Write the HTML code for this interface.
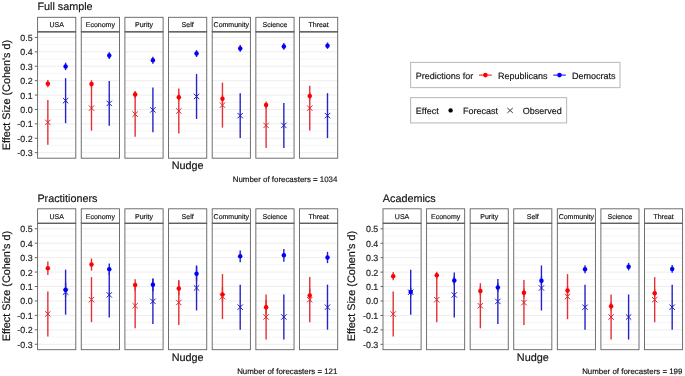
<!DOCTYPE html>
<html><head><meta charset="utf-8"><style>
html,body{margin:0;padding:0;background:#fff;}
body{width:685px;height:376px;overflow:hidden;}
svg{display:block;will-change:transform;font-family:"Liberation Sans", sans-serif;}
text{stroke:currentColor;stroke-width:0.16px;text-rendering:geometricPrecision;}
</style></head><body>
<svg width="685" height="376" viewBox="0 0 685 376">
<rect width="685" height="376" fill="#fff"/>
<text x="37.4" y="9.9" font-size="10.8" fill="#1a1a1a">Full sample</text>
<text x="32.6" y="156.1" font-size="8.9" fill="#333" text-anchor="end">-0.3</text>
<line x1="34.8" y1="152.65" x2="37.6" y2="152.65" stroke="#555" stroke-width="0.9"/>
<text x="32.6" y="141.7" font-size="8.9" fill="#333" text-anchor="end">-0.2</text>
<line x1="34.8" y1="138.25" x2="37.6" y2="138.25" stroke="#555" stroke-width="0.9"/>
<text x="32.6" y="127.3" font-size="8.9" fill="#333" text-anchor="end">-0.1</text>
<line x1="34.8" y1="123.85" x2="37.6" y2="123.85" stroke="#555" stroke-width="0.9"/>
<text x="32.6" y="112.9" font-size="8.9" fill="#333" text-anchor="end">0.0</text>
<line x1="34.8" y1="109.45" x2="37.6" y2="109.45" stroke="#555" stroke-width="0.9"/>
<text x="32.6" y="98.5" font-size="8.9" fill="#333" text-anchor="end">0.1</text>
<line x1="34.8" y1="95.05" x2="37.6" y2="95.05" stroke="#555" stroke-width="0.9"/>
<text x="32.6" y="84.1" font-size="8.9" fill="#333" text-anchor="end">0.2</text>
<line x1="34.8" y1="80.65" x2="37.6" y2="80.65" stroke="#555" stroke-width="0.9"/>
<text x="32.6" y="69.7" font-size="8.9" fill="#333" text-anchor="end">0.3</text>
<line x1="34.8" y1="66.25" x2="37.6" y2="66.25" stroke="#555" stroke-width="0.9"/>
<text x="32.6" y="55.3" font-size="8.9" fill="#333" text-anchor="end">0.4</text>
<line x1="34.8" y1="51.85" x2="37.6" y2="51.85" stroke="#555" stroke-width="0.9"/>
<text x="32.6" y="40.9" font-size="8.9" fill="#333" text-anchor="end">0.5</text>
<line x1="34.8" y1="37.45" x2="37.6" y2="37.45" stroke="#555" stroke-width="0.9"/>
<text transform="translate(10.2,95) rotate(-90)" font-size="10.85" fill="#1a1a1a" text-anchor="middle">Effect Size (Cohen's d)</text>
<line x1="37.6" y1="152.65" x2="75.8" y2="152.65" stroke="#ebebeb" stroke-width="0.9"/>
<line x1="37.6" y1="145.45" x2="75.8" y2="145.45" stroke="#f2f2f2" stroke-width="0.7"/>
<line x1="37.6" y1="138.25" x2="75.8" y2="138.25" stroke="#ebebeb" stroke-width="0.9"/>
<line x1="37.6" y1="131.05" x2="75.8" y2="131.05" stroke="#f2f2f2" stroke-width="0.7"/>
<line x1="37.6" y1="123.85" x2="75.8" y2="123.85" stroke="#ebebeb" stroke-width="0.9"/>
<line x1="37.6" y1="116.65" x2="75.8" y2="116.65" stroke="#f2f2f2" stroke-width="0.7"/>
<line x1="37.6" y1="109.45" x2="75.8" y2="109.45" stroke="#ebebeb" stroke-width="0.9"/>
<line x1="37.6" y1="102.25" x2="75.8" y2="102.25" stroke="#f2f2f2" stroke-width="0.7"/>
<line x1="37.6" y1="95.05" x2="75.8" y2="95.05" stroke="#ebebeb" stroke-width="0.9"/>
<line x1="37.6" y1="87.85" x2="75.8" y2="87.85" stroke="#f2f2f2" stroke-width="0.7"/>
<line x1="37.6" y1="80.65" x2="75.8" y2="80.65" stroke="#ebebeb" stroke-width="0.9"/>
<line x1="37.6" y1="73.45" x2="75.8" y2="73.45" stroke="#f2f2f2" stroke-width="0.7"/>
<line x1="37.6" y1="66.25" x2="75.8" y2="66.25" stroke="#ebebeb" stroke-width="0.9"/>
<line x1="37.6" y1="59.05" x2="75.8" y2="59.05" stroke="#f2f2f2" stroke-width="0.7"/>
<line x1="37.6" y1="51.85" x2="75.8" y2="51.85" stroke="#ebebeb" stroke-width="0.9"/>
<line x1="37.6" y1="44.65" x2="75.8" y2="44.65" stroke="#f2f2f2" stroke-width="0.7"/>
<line x1="37.6" y1="37.45" x2="75.8" y2="37.45" stroke="#ebebeb" stroke-width="0.9"/>
<line x1="47.85" y1="99.95" x2="47.85" y2="144.87" stroke="#e43036" stroke-width="1.4"/>
<path d="M45.15 119.71L50.55 125.11M45.15 125.11L50.55 119.71" stroke="#d42a30" stroke-width="1.0" fill="none"/>
<line x1="47.85" y1="80.07" x2="47.85" y2="87.27" stroke="#e43036" stroke-width="1.4"/>
<circle cx="47.85" cy="83.67" r="2.25" fill="#ff0000"/>
<line x1="65.6" y1="78.2" x2="65.6" y2="123.13" stroke="#2424c8" stroke-width="1.4"/>
<path d="M62.9 97.97L68.3 103.37M62.9 103.37L68.3 97.97" stroke="#1c1cb8" stroke-width="1.0" fill="none"/>
<line x1="65.6" y1="62.65" x2="65.6" y2="70.14" stroke="#2424c8" stroke-width="1.4"/>
<circle cx="65.6" cy="66.39" r="2.25" fill="#0000ff"/>
<rect x="37.6" y="31.7" width="38.2" height="126.5" fill="none" stroke="#606060" stroke-width="0.9"/>
<rect x="37.6" y="17.3" width="38.2" height="14.4" fill="#fff" stroke="#606060" stroke-width="0.9"/>
<text x="56.7" y="27.1" font-size="7" fill="#1a1a1a" text-anchor="middle">USA</text>
<line x1="37.6" y1="31.85" x2="75.8" y2="31.85" stroke="#606060" stroke-width="1.3"/>
<line x1="81.25" y1="152.65" x2="119.45" y2="152.65" stroke="#ebebeb" stroke-width="0.9"/>
<line x1="81.25" y1="145.45" x2="119.45" y2="145.45" stroke="#f2f2f2" stroke-width="0.7"/>
<line x1="81.25" y1="138.25" x2="119.45" y2="138.25" stroke="#ebebeb" stroke-width="0.9"/>
<line x1="81.25" y1="131.05" x2="119.45" y2="131.05" stroke="#f2f2f2" stroke-width="0.7"/>
<line x1="81.25" y1="123.85" x2="119.45" y2="123.85" stroke="#ebebeb" stroke-width="0.9"/>
<line x1="81.25" y1="116.65" x2="119.45" y2="116.65" stroke="#f2f2f2" stroke-width="0.7"/>
<line x1="81.25" y1="109.45" x2="119.45" y2="109.45" stroke="#ebebeb" stroke-width="0.9"/>
<line x1="81.25" y1="102.25" x2="119.45" y2="102.25" stroke="#f2f2f2" stroke-width="0.7"/>
<line x1="81.25" y1="95.05" x2="119.45" y2="95.05" stroke="#ebebeb" stroke-width="0.9"/>
<line x1="81.25" y1="87.85" x2="119.45" y2="87.85" stroke="#f2f2f2" stroke-width="0.7"/>
<line x1="81.25" y1="80.65" x2="119.45" y2="80.65" stroke="#ebebeb" stroke-width="0.9"/>
<line x1="81.25" y1="73.45" x2="119.45" y2="73.45" stroke="#f2f2f2" stroke-width="0.7"/>
<line x1="81.25" y1="66.25" x2="119.45" y2="66.25" stroke="#ebebeb" stroke-width="0.9"/>
<line x1="81.25" y1="59.05" x2="119.45" y2="59.05" stroke="#f2f2f2" stroke-width="0.7"/>
<line x1="81.25" y1="51.85" x2="119.45" y2="51.85" stroke="#ebebeb" stroke-width="0.9"/>
<line x1="81.25" y1="44.65" x2="119.45" y2="44.65" stroke="#f2f2f2" stroke-width="0.7"/>
<line x1="81.25" y1="37.45" x2="119.45" y2="37.45" stroke="#ebebeb" stroke-width="0.9"/>
<line x1="91.5" y1="85.69" x2="91.5" y2="130.62" stroke="#e43036" stroke-width="1.4"/>
<path d="M88.8 105.45L94.2 110.85M88.8 110.85L94.2 105.45" stroke="#d42a30" stroke-width="1.0" fill="none"/>
<line x1="91.5" y1="80.22" x2="91.5" y2="87.71" stroke="#e43036" stroke-width="1.4"/>
<circle cx="91.5" cy="83.96" r="2.25" fill="#ff0000"/>
<line x1="109.25" y1="80.94" x2="109.25" y2="125.87" stroke="#2424c8" stroke-width="1.4"/>
<path d="M106.55 100.7L111.95 106.1M106.55 106.1L111.95 100.7" stroke="#1c1cb8" stroke-width="1.0" fill="none"/>
<line x1="109.25" y1="52.14" x2="109.25" y2="59.05" stroke="#2424c8" stroke-width="1.4"/>
<circle cx="109.25" cy="55.59" r="2.25" fill="#0000ff"/>
<rect x="81.25" y="31.7" width="38.2" height="126.5" fill="none" stroke="#606060" stroke-width="0.9"/>
<rect x="81.25" y="17.3" width="38.2" height="14.4" fill="#fff" stroke="#606060" stroke-width="0.9"/>
<text x="100.35" y="27.1" font-size="7" fill="#1a1a1a" text-anchor="middle">Economy</text>
<line x1="81.25" y1="31.85" x2="119.45" y2="31.85" stroke="#606060" stroke-width="1.3"/>
<line x1="124.9" y1="152.65" x2="163.1" y2="152.65" stroke="#ebebeb" stroke-width="0.9"/>
<line x1="124.9" y1="145.45" x2="163.1" y2="145.45" stroke="#f2f2f2" stroke-width="0.7"/>
<line x1="124.9" y1="138.25" x2="163.1" y2="138.25" stroke="#ebebeb" stroke-width="0.9"/>
<line x1="124.9" y1="131.05" x2="163.1" y2="131.05" stroke="#f2f2f2" stroke-width="0.7"/>
<line x1="124.9" y1="123.85" x2="163.1" y2="123.85" stroke="#ebebeb" stroke-width="0.9"/>
<line x1="124.9" y1="116.65" x2="163.1" y2="116.65" stroke="#f2f2f2" stroke-width="0.7"/>
<line x1="124.9" y1="109.45" x2="163.1" y2="109.45" stroke="#ebebeb" stroke-width="0.9"/>
<line x1="124.9" y1="102.25" x2="163.1" y2="102.25" stroke="#f2f2f2" stroke-width="0.7"/>
<line x1="124.9" y1="95.05" x2="163.1" y2="95.05" stroke="#ebebeb" stroke-width="0.9"/>
<line x1="124.9" y1="87.85" x2="163.1" y2="87.85" stroke="#f2f2f2" stroke-width="0.7"/>
<line x1="124.9" y1="80.65" x2="163.1" y2="80.65" stroke="#ebebeb" stroke-width="0.9"/>
<line x1="124.9" y1="73.45" x2="163.1" y2="73.45" stroke="#f2f2f2" stroke-width="0.7"/>
<line x1="124.9" y1="66.25" x2="163.1" y2="66.25" stroke="#ebebeb" stroke-width="0.9"/>
<line x1="124.9" y1="59.05" x2="163.1" y2="59.05" stroke="#f2f2f2" stroke-width="0.7"/>
<line x1="124.9" y1="51.85" x2="163.1" y2="51.85" stroke="#ebebeb" stroke-width="0.9"/>
<line x1="124.9" y1="44.65" x2="163.1" y2="44.65" stroke="#f2f2f2" stroke-width="0.7"/>
<line x1="124.9" y1="37.45" x2="163.1" y2="37.45" stroke="#ebebeb" stroke-width="0.9"/>
<line x1="135.15" y1="91.74" x2="135.15" y2="136.67" stroke="#e43036" stroke-width="1.4"/>
<path d="M132.45 111.5L137.85 116.9M132.45 116.9L137.85 111.5" stroke="#d42a30" stroke-width="1.0" fill="none"/>
<line x1="135.15" y1="91.02" x2="135.15" y2="98.22" stroke="#e43036" stroke-width="1.4"/>
<circle cx="135.15" cy="94.62" r="2.25" fill="#ff0000"/>
<line x1="152.9" y1="87.42" x2="152.9" y2="132.35" stroke="#2424c8" stroke-width="1.4"/>
<path d="M150.2 107.18L155.6 112.58M150.2 112.58L155.6 107.18" stroke="#1c1cb8" stroke-width="1.0" fill="none"/>
<line x1="152.9" y1="56.75" x2="152.9" y2="63.66" stroke="#2424c8" stroke-width="1.4"/>
<circle cx="152.9" cy="60.2" r="2.25" fill="#0000ff"/>
<rect x="124.9" y="31.7" width="38.2" height="126.5" fill="none" stroke="#606060" stroke-width="0.9"/>
<rect x="124.9" y="17.3" width="38.2" height="14.4" fill="#fff" stroke="#606060" stroke-width="0.9"/>
<text x="144" y="27.1" font-size="7" fill="#1a1a1a" text-anchor="middle">Purity</text>
<line x1="124.9" y1="31.85" x2="163.1" y2="31.85" stroke="#606060" stroke-width="1.3"/>
<line x1="168.55" y1="152.65" x2="206.75" y2="152.65" stroke="#ebebeb" stroke-width="0.9"/>
<line x1="168.55" y1="145.45" x2="206.75" y2="145.45" stroke="#f2f2f2" stroke-width="0.7"/>
<line x1="168.55" y1="138.25" x2="206.75" y2="138.25" stroke="#ebebeb" stroke-width="0.9"/>
<line x1="168.55" y1="131.05" x2="206.75" y2="131.05" stroke="#f2f2f2" stroke-width="0.7"/>
<line x1="168.55" y1="123.85" x2="206.75" y2="123.85" stroke="#ebebeb" stroke-width="0.9"/>
<line x1="168.55" y1="116.65" x2="206.75" y2="116.65" stroke="#f2f2f2" stroke-width="0.7"/>
<line x1="168.55" y1="109.45" x2="206.75" y2="109.45" stroke="#ebebeb" stroke-width="0.9"/>
<line x1="168.55" y1="102.25" x2="206.75" y2="102.25" stroke="#f2f2f2" stroke-width="0.7"/>
<line x1="168.55" y1="95.05" x2="206.75" y2="95.05" stroke="#ebebeb" stroke-width="0.9"/>
<line x1="168.55" y1="87.85" x2="206.75" y2="87.85" stroke="#f2f2f2" stroke-width="0.7"/>
<line x1="168.55" y1="80.65" x2="206.75" y2="80.65" stroke="#ebebeb" stroke-width="0.9"/>
<line x1="168.55" y1="73.45" x2="206.75" y2="73.45" stroke="#f2f2f2" stroke-width="0.7"/>
<line x1="168.55" y1="66.25" x2="206.75" y2="66.25" stroke="#ebebeb" stroke-width="0.9"/>
<line x1="168.55" y1="59.05" x2="206.75" y2="59.05" stroke="#f2f2f2" stroke-width="0.7"/>
<line x1="168.55" y1="51.85" x2="206.75" y2="51.85" stroke="#ebebeb" stroke-width="0.9"/>
<line x1="168.55" y1="44.65" x2="206.75" y2="44.65" stroke="#f2f2f2" stroke-width="0.7"/>
<line x1="168.55" y1="37.45" x2="206.75" y2="37.45" stroke="#ebebeb" stroke-width="0.9"/>
<line x1="178.8" y1="88.57" x2="178.8" y2="133.5" stroke="#e43036" stroke-width="1.4"/>
<path d="M176.1 108.33L181.5 113.73M176.1 113.73L181.5 108.33" stroke="#d42a30" stroke-width="1.0" fill="none"/>
<line x1="178.8" y1="93.61" x2="178.8" y2="100.81" stroke="#e43036" stroke-width="1.4"/>
<circle cx="178.8" cy="97.21" r="2.25" fill="#ff0000"/>
<line x1="196.55" y1="74.03" x2="196.55" y2="118.95" stroke="#2424c8" stroke-width="1.4"/>
<path d="M193.85 93.79L199.25 99.19M193.85 99.19L199.25 93.79" stroke="#1c1cb8" stroke-width="1.0" fill="none"/>
<line x1="196.55" y1="50.12" x2="196.55" y2="57.03" stroke="#2424c8" stroke-width="1.4"/>
<circle cx="196.55" cy="53.58" r="2.25" fill="#0000ff"/>
<rect x="168.55" y="31.7" width="38.2" height="126.5" fill="none" stroke="#606060" stroke-width="0.9"/>
<rect x="168.55" y="17.3" width="38.2" height="14.4" fill="#fff" stroke="#606060" stroke-width="0.9"/>
<text x="187.65" y="27.1" font-size="7" fill="#1a1a1a" text-anchor="middle">Self</text>
<line x1="168.55" y1="31.85" x2="206.75" y2="31.85" stroke="#606060" stroke-width="1.3"/>
<line x1="212.2" y1="152.65" x2="250.4" y2="152.65" stroke="#ebebeb" stroke-width="0.9"/>
<line x1="212.2" y1="145.45" x2="250.4" y2="145.45" stroke="#f2f2f2" stroke-width="0.7"/>
<line x1="212.2" y1="138.25" x2="250.4" y2="138.25" stroke="#ebebeb" stroke-width="0.9"/>
<line x1="212.2" y1="131.05" x2="250.4" y2="131.05" stroke="#f2f2f2" stroke-width="0.7"/>
<line x1="212.2" y1="123.85" x2="250.4" y2="123.85" stroke="#ebebeb" stroke-width="0.9"/>
<line x1="212.2" y1="116.65" x2="250.4" y2="116.65" stroke="#f2f2f2" stroke-width="0.7"/>
<line x1="212.2" y1="109.45" x2="250.4" y2="109.45" stroke="#ebebeb" stroke-width="0.9"/>
<line x1="212.2" y1="102.25" x2="250.4" y2="102.25" stroke="#f2f2f2" stroke-width="0.7"/>
<line x1="212.2" y1="95.05" x2="250.4" y2="95.05" stroke="#ebebeb" stroke-width="0.9"/>
<line x1="212.2" y1="87.85" x2="250.4" y2="87.85" stroke="#f2f2f2" stroke-width="0.7"/>
<line x1="212.2" y1="80.65" x2="250.4" y2="80.65" stroke="#ebebeb" stroke-width="0.9"/>
<line x1="212.2" y1="73.45" x2="250.4" y2="73.45" stroke="#f2f2f2" stroke-width="0.7"/>
<line x1="212.2" y1="66.25" x2="250.4" y2="66.25" stroke="#ebebeb" stroke-width="0.9"/>
<line x1="212.2" y1="59.05" x2="250.4" y2="59.05" stroke="#f2f2f2" stroke-width="0.7"/>
<line x1="212.2" y1="51.85" x2="250.4" y2="51.85" stroke="#ebebeb" stroke-width="0.9"/>
<line x1="212.2" y1="44.65" x2="250.4" y2="44.65" stroke="#f2f2f2" stroke-width="0.7"/>
<line x1="212.2" y1="37.45" x2="250.4" y2="37.45" stroke="#ebebeb" stroke-width="0.9"/>
<line x1="222.45" y1="82.67" x2="222.45" y2="127.59" stroke="#e43036" stroke-width="1.4"/>
<path d="M219.75 102.43L225.15 107.83M219.75 107.83L225.15 102.43" stroke="#d42a30" stroke-width="1.0" fill="none"/>
<line x1="222.45" y1="95.05" x2="222.45" y2="102.25" stroke="#e43036" stroke-width="1.4"/>
<circle cx="222.45" cy="98.65" r="2.25" fill="#ff0000"/>
<line x1="240.2" y1="93.18" x2="240.2" y2="138.11" stroke="#2424c8" stroke-width="1.4"/>
<path d="M237.5 112.94L242.9 118.34M237.5 118.34L242.9 112.94" stroke="#1c1cb8" stroke-width="1.0" fill="none"/>
<line x1="240.2" y1="45.08" x2="240.2" y2="51.71" stroke="#2424c8" stroke-width="1.4"/>
<circle cx="240.2" cy="48.39" r="2.25" fill="#0000ff"/>
<rect x="212.2" y="31.7" width="38.2" height="126.5" fill="none" stroke="#606060" stroke-width="0.9"/>
<rect x="212.2" y="17.3" width="38.2" height="14.4" fill="#fff" stroke="#606060" stroke-width="0.9"/>
<text x="231.3" y="27.1" font-size="7" fill="#1a1a1a" text-anchor="middle">Community</text>
<line x1="212.2" y1="31.85" x2="250.4" y2="31.85" stroke="#606060" stroke-width="1.3"/>
<line x1="255.85" y1="152.65" x2="294.05" y2="152.65" stroke="#ebebeb" stroke-width="0.9"/>
<line x1="255.85" y1="145.45" x2="294.05" y2="145.45" stroke="#f2f2f2" stroke-width="0.7"/>
<line x1="255.85" y1="138.25" x2="294.05" y2="138.25" stroke="#ebebeb" stroke-width="0.9"/>
<line x1="255.85" y1="131.05" x2="294.05" y2="131.05" stroke="#f2f2f2" stroke-width="0.7"/>
<line x1="255.85" y1="123.85" x2="294.05" y2="123.85" stroke="#ebebeb" stroke-width="0.9"/>
<line x1="255.85" y1="116.65" x2="294.05" y2="116.65" stroke="#f2f2f2" stroke-width="0.7"/>
<line x1="255.85" y1="109.45" x2="294.05" y2="109.45" stroke="#ebebeb" stroke-width="0.9"/>
<line x1="255.85" y1="102.25" x2="294.05" y2="102.25" stroke="#f2f2f2" stroke-width="0.7"/>
<line x1="255.85" y1="95.05" x2="294.05" y2="95.05" stroke="#ebebeb" stroke-width="0.9"/>
<line x1="255.85" y1="87.85" x2="294.05" y2="87.85" stroke="#f2f2f2" stroke-width="0.7"/>
<line x1="255.85" y1="80.65" x2="294.05" y2="80.65" stroke="#ebebeb" stroke-width="0.9"/>
<line x1="255.85" y1="73.45" x2="294.05" y2="73.45" stroke="#f2f2f2" stroke-width="0.7"/>
<line x1="255.85" y1="66.25" x2="294.05" y2="66.25" stroke="#ebebeb" stroke-width="0.9"/>
<line x1="255.85" y1="59.05" x2="294.05" y2="59.05" stroke="#f2f2f2" stroke-width="0.7"/>
<line x1="255.85" y1="51.85" x2="294.05" y2="51.85" stroke="#ebebeb" stroke-width="0.9"/>
<line x1="255.85" y1="44.65" x2="294.05" y2="44.65" stroke="#f2f2f2" stroke-width="0.7"/>
<line x1="255.85" y1="37.45" x2="294.05" y2="37.45" stroke="#ebebeb" stroke-width="0.9"/>
<line x1="266.1" y1="102.97" x2="266.1" y2="147.9" stroke="#e43036" stroke-width="1.4"/>
<path d="M263.4 122.73L268.8 128.13M263.4 128.13L268.8 122.73" stroke="#d42a30" stroke-width="1.0" fill="none"/>
<line x1="266.1" y1="101.39" x2="266.1" y2="108.59" stroke="#e43036" stroke-width="1.4"/>
<circle cx="266.1" cy="104.99" r="2.25" fill="#ff0000"/>
<line x1="283.85" y1="102.97" x2="283.85" y2="147.9" stroke="#2424c8" stroke-width="1.4"/>
<path d="M281.15 122.73L286.55 128.13M281.15 128.13L286.55 122.73" stroke="#1c1cb8" stroke-width="1.0" fill="none"/>
<line x1="283.85" y1="43.07" x2="283.85" y2="49.69" stroke="#2424c8" stroke-width="1.4"/>
<circle cx="283.85" cy="46.38" r="2.25" fill="#0000ff"/>
<rect x="255.85" y="31.7" width="38.2" height="126.5" fill="none" stroke="#606060" stroke-width="0.9"/>
<rect x="255.85" y="17.3" width="38.2" height="14.4" fill="#fff" stroke="#606060" stroke-width="0.9"/>
<text x="274.95" y="27.1" font-size="7" fill="#1a1a1a" text-anchor="middle">Science</text>
<line x1="255.85" y1="31.85" x2="294.05" y2="31.85" stroke="#606060" stroke-width="1.3"/>
<line x1="299.5" y1="152.65" x2="337.7" y2="152.65" stroke="#ebebeb" stroke-width="0.9"/>
<line x1="299.5" y1="145.45" x2="337.7" y2="145.45" stroke="#f2f2f2" stroke-width="0.7"/>
<line x1="299.5" y1="138.25" x2="337.7" y2="138.25" stroke="#ebebeb" stroke-width="0.9"/>
<line x1="299.5" y1="131.05" x2="337.7" y2="131.05" stroke="#f2f2f2" stroke-width="0.7"/>
<line x1="299.5" y1="123.85" x2="337.7" y2="123.85" stroke="#ebebeb" stroke-width="0.9"/>
<line x1="299.5" y1="116.65" x2="337.7" y2="116.65" stroke="#f2f2f2" stroke-width="0.7"/>
<line x1="299.5" y1="109.45" x2="337.7" y2="109.45" stroke="#ebebeb" stroke-width="0.9"/>
<line x1="299.5" y1="102.25" x2="337.7" y2="102.25" stroke="#f2f2f2" stroke-width="0.7"/>
<line x1="299.5" y1="95.05" x2="337.7" y2="95.05" stroke="#ebebeb" stroke-width="0.9"/>
<line x1="299.5" y1="87.85" x2="337.7" y2="87.85" stroke="#f2f2f2" stroke-width="0.7"/>
<line x1="299.5" y1="80.65" x2="337.7" y2="80.65" stroke="#ebebeb" stroke-width="0.9"/>
<line x1="299.5" y1="73.45" x2="337.7" y2="73.45" stroke="#f2f2f2" stroke-width="0.7"/>
<line x1="299.5" y1="66.25" x2="337.7" y2="66.25" stroke="#ebebeb" stroke-width="0.9"/>
<line x1="299.5" y1="59.05" x2="337.7" y2="59.05" stroke="#f2f2f2" stroke-width="0.7"/>
<line x1="299.5" y1="51.85" x2="337.7" y2="51.85" stroke="#ebebeb" stroke-width="0.9"/>
<line x1="299.5" y1="44.65" x2="337.7" y2="44.65" stroke="#f2f2f2" stroke-width="0.7"/>
<line x1="299.5" y1="37.45" x2="337.7" y2="37.45" stroke="#ebebeb" stroke-width="0.9"/>
<line x1="309.75" y1="85.69" x2="309.75" y2="130.62" stroke="#e43036" stroke-width="1.4"/>
<path d="M307.05 105.45L312.45 110.85M307.05 110.85L312.45 105.45" stroke="#d42a30" stroke-width="1.0" fill="none"/>
<line x1="309.75" y1="92.46" x2="309.75" y2="99.66" stroke="#e43036" stroke-width="1.4"/>
<circle cx="309.75" cy="96.06" r="2.25" fill="#ff0000"/>
<line x1="327.5" y1="93.18" x2="327.5" y2="138.11" stroke="#2424c8" stroke-width="1.4"/>
<path d="M324.8 112.94L330.2 118.34M324.8 118.34L330.2 112.94" stroke="#1c1cb8" stroke-width="1.0" fill="none"/>
<line x1="327.5" y1="42.49" x2="327.5" y2="48.83" stroke="#2424c8" stroke-width="1.4"/>
<circle cx="327.5" cy="45.66" r="2.25" fill="#0000ff"/>
<rect x="299.5" y="31.7" width="38.2" height="126.5" fill="none" stroke="#606060" stroke-width="0.9"/>
<rect x="299.5" y="17.3" width="38.2" height="14.4" fill="#fff" stroke="#606060" stroke-width="0.9"/>
<text x="318.6" y="27.1" font-size="7" fill="#1a1a1a" text-anchor="middle">Threat</text>
<line x1="299.5" y1="31.85" x2="337.7" y2="31.85" stroke="#606060" stroke-width="1.3"/>
<text x="187.65" y="169.1" font-size="10.85" fill="#1a1a1a" text-anchor="middle">Nudge</text>
<text x="337.4" y="182" font-size="7.9" fill="#1a1a1a" text-anchor="end">Number of forecasters = 1034</text>
<text x="37.4" y="201.65" font-size="10.8" fill="#1a1a1a">Practitioners</text>
<text x="32.6" y="347.72" font-size="8.9" fill="#333" text-anchor="end">-0.3</text>
<line x1="34.8" y1="344.27" x2="37.6" y2="344.27" stroke="#555" stroke-width="0.9"/>
<text x="32.6" y="333.28" font-size="8.9" fill="#333" text-anchor="end">-0.2</text>
<line x1="34.8" y1="329.83" x2="37.6" y2="329.83" stroke="#555" stroke-width="0.9"/>
<text x="32.6" y="318.84" font-size="8.9" fill="#333" text-anchor="end">-0.1</text>
<line x1="34.8" y1="315.39" x2="37.6" y2="315.39" stroke="#555" stroke-width="0.9"/>
<text x="32.6" y="304.4" font-size="8.9" fill="#333" text-anchor="end">0.0</text>
<line x1="34.8" y1="300.95" x2="37.6" y2="300.95" stroke="#555" stroke-width="0.9"/>
<text x="32.6" y="289.96" font-size="8.9" fill="#333" text-anchor="end">0.1</text>
<line x1="34.8" y1="286.51" x2="37.6" y2="286.51" stroke="#555" stroke-width="0.9"/>
<text x="32.6" y="275.52" font-size="8.9" fill="#333" text-anchor="end">0.2</text>
<line x1="34.8" y1="272.07" x2="37.6" y2="272.07" stroke="#555" stroke-width="0.9"/>
<text x="32.6" y="261.08" font-size="8.9" fill="#333" text-anchor="end">0.3</text>
<line x1="34.8" y1="257.63" x2="37.6" y2="257.63" stroke="#555" stroke-width="0.9"/>
<text x="32.6" y="246.64" font-size="8.9" fill="#333" text-anchor="end">0.4</text>
<line x1="34.8" y1="243.19" x2="37.6" y2="243.19" stroke="#555" stroke-width="0.9"/>
<text x="32.6" y="232.2" font-size="8.9" fill="#333" text-anchor="end">0.5</text>
<line x1="34.8" y1="228.75" x2="37.6" y2="228.75" stroke="#555" stroke-width="0.9"/>
<text transform="translate(10.2,286.15) rotate(-90)" font-size="10.85" fill="#1a1a1a" text-anchor="middle">Effect Size (Cohen's d)</text>
<line x1="37.6" y1="344.27" x2="75.8" y2="344.27" stroke="#ebebeb" stroke-width="0.9"/>
<line x1="37.6" y1="337.05" x2="75.8" y2="337.05" stroke="#f2f2f2" stroke-width="0.7"/>
<line x1="37.6" y1="329.83" x2="75.8" y2="329.83" stroke="#ebebeb" stroke-width="0.9"/>
<line x1="37.6" y1="322.61" x2="75.8" y2="322.61" stroke="#f2f2f2" stroke-width="0.7"/>
<line x1="37.6" y1="315.39" x2="75.8" y2="315.39" stroke="#ebebeb" stroke-width="0.9"/>
<line x1="37.6" y1="308.17" x2="75.8" y2="308.17" stroke="#f2f2f2" stroke-width="0.7"/>
<line x1="37.6" y1="300.95" x2="75.8" y2="300.95" stroke="#ebebeb" stroke-width="0.9"/>
<line x1="37.6" y1="293.73" x2="75.8" y2="293.73" stroke="#f2f2f2" stroke-width="0.7"/>
<line x1="37.6" y1="286.51" x2="75.8" y2="286.51" stroke="#ebebeb" stroke-width="0.9"/>
<line x1="37.6" y1="279.29" x2="75.8" y2="279.29" stroke="#f2f2f2" stroke-width="0.7"/>
<line x1="37.6" y1="272.07" x2="75.8" y2="272.07" stroke="#ebebeb" stroke-width="0.9"/>
<line x1="37.6" y1="264.85" x2="75.8" y2="264.85" stroke="#f2f2f2" stroke-width="0.7"/>
<line x1="37.6" y1="257.63" x2="75.8" y2="257.63" stroke="#ebebeb" stroke-width="0.9"/>
<line x1="37.6" y1="250.41" x2="75.8" y2="250.41" stroke="#f2f2f2" stroke-width="0.7"/>
<line x1="37.6" y1="243.19" x2="75.8" y2="243.19" stroke="#ebebeb" stroke-width="0.9"/>
<line x1="37.6" y1="235.97" x2="75.8" y2="235.97" stroke="#f2f2f2" stroke-width="0.7"/>
<line x1="37.6" y1="228.75" x2="75.8" y2="228.75" stroke="#ebebeb" stroke-width="0.9"/>
<line x1="47.85" y1="291.42" x2="47.85" y2="336.47" stroke="#e43036" stroke-width="1.4"/>
<path d="M45.15 311.25L50.55 316.65M45.15 316.65L50.55 311.25" stroke="#d42a30" stroke-width="1.0" fill="none"/>
<line x1="47.85" y1="261.38" x2="47.85" y2="274.96" stroke="#e43036" stroke-width="1.4"/>
<circle cx="47.85" cy="268.17" r="2.25" fill="#ff0000"/>
<line x1="65.6" y1="269.62" x2="65.6" y2="314.67" stroke="#2424c8" stroke-width="1.4"/>
<path d="M62.9 289.44L68.3 294.84M62.9 294.84L68.3 289.44" stroke="#1c1cb8" stroke-width="1.0" fill="none"/>
<line x1="65.6" y1="282.47" x2="65.6" y2="296.91" stroke="#2424c8" stroke-width="1.4"/>
<circle cx="65.6" cy="289.69" r="2.25" fill="#0000ff"/>
<rect x="37.6" y="223.2" width="38.2" height="126.5" fill="none" stroke="#606060" stroke-width="0.9"/>
<rect x="37.6" y="208.8" width="38.2" height="14.4" fill="#fff" stroke="#606060" stroke-width="0.9"/>
<text x="56.7" y="218.6" font-size="7" fill="#1a1a1a" text-anchor="middle">USA</text>
<line x1="37.6" y1="223.35" x2="75.8" y2="223.35" stroke="#606060" stroke-width="1.3"/>
<line x1="81.25" y1="344.27" x2="119.45" y2="344.27" stroke="#ebebeb" stroke-width="0.9"/>
<line x1="81.25" y1="337.05" x2="119.45" y2="337.05" stroke="#f2f2f2" stroke-width="0.7"/>
<line x1="81.25" y1="329.83" x2="119.45" y2="329.83" stroke="#ebebeb" stroke-width="0.9"/>
<line x1="81.25" y1="322.61" x2="119.45" y2="322.61" stroke="#f2f2f2" stroke-width="0.7"/>
<line x1="81.25" y1="315.39" x2="119.45" y2="315.39" stroke="#ebebeb" stroke-width="0.9"/>
<line x1="81.25" y1="308.17" x2="119.45" y2="308.17" stroke="#f2f2f2" stroke-width="0.7"/>
<line x1="81.25" y1="300.95" x2="119.45" y2="300.95" stroke="#ebebeb" stroke-width="0.9"/>
<line x1="81.25" y1="293.73" x2="119.45" y2="293.73" stroke="#f2f2f2" stroke-width="0.7"/>
<line x1="81.25" y1="286.51" x2="119.45" y2="286.51" stroke="#ebebeb" stroke-width="0.9"/>
<line x1="81.25" y1="279.29" x2="119.45" y2="279.29" stroke="#f2f2f2" stroke-width="0.7"/>
<line x1="81.25" y1="272.07" x2="119.45" y2="272.07" stroke="#ebebeb" stroke-width="0.9"/>
<line x1="81.25" y1="264.85" x2="119.45" y2="264.85" stroke="#f2f2f2" stroke-width="0.7"/>
<line x1="81.25" y1="257.63" x2="119.45" y2="257.63" stroke="#ebebeb" stroke-width="0.9"/>
<line x1="81.25" y1="250.41" x2="119.45" y2="250.41" stroke="#f2f2f2" stroke-width="0.7"/>
<line x1="81.25" y1="243.19" x2="119.45" y2="243.19" stroke="#ebebeb" stroke-width="0.9"/>
<line x1="81.25" y1="235.97" x2="119.45" y2="235.97" stroke="#f2f2f2" stroke-width="0.7"/>
<line x1="81.25" y1="228.75" x2="119.45" y2="228.75" stroke="#ebebeb" stroke-width="0.9"/>
<line x1="91.5" y1="277.12" x2="91.5" y2="322.18" stroke="#e43036" stroke-width="1.4"/>
<path d="M88.8 296.95L94.2 302.35M88.8 302.35L94.2 296.95" stroke="#d42a30" stroke-width="1.0" fill="none"/>
<line x1="91.5" y1="258.5" x2="91.5" y2="270.63" stroke="#e43036" stroke-width="1.4"/>
<circle cx="91.5" cy="264.56" r="2.25" fill="#ff0000"/>
<line x1="109.25" y1="272.36" x2="109.25" y2="317.41" stroke="#2424c8" stroke-width="1.4"/>
<path d="M106.55 292.19L111.95 297.59M106.55 297.59L111.95 292.19" stroke="#1c1cb8" stroke-width="1.0" fill="none"/>
<line x1="109.25" y1="263.41" x2="109.25" y2="274.96" stroke="#2424c8" stroke-width="1.4"/>
<circle cx="109.25" cy="269.18" r="2.25" fill="#0000ff"/>
<rect x="81.25" y="223.2" width="38.2" height="126.5" fill="none" stroke="#606060" stroke-width="0.9"/>
<rect x="81.25" y="208.8" width="38.2" height="14.4" fill="#fff" stroke="#606060" stroke-width="0.9"/>
<text x="100.35" y="218.6" font-size="7" fill="#1a1a1a" text-anchor="middle">Economy</text>
<line x1="81.25" y1="223.35" x2="119.45" y2="223.35" stroke="#606060" stroke-width="1.3"/>
<line x1="124.9" y1="344.27" x2="163.1" y2="344.27" stroke="#ebebeb" stroke-width="0.9"/>
<line x1="124.9" y1="337.05" x2="163.1" y2="337.05" stroke="#f2f2f2" stroke-width="0.7"/>
<line x1="124.9" y1="329.83" x2="163.1" y2="329.83" stroke="#ebebeb" stroke-width="0.9"/>
<line x1="124.9" y1="322.61" x2="163.1" y2="322.61" stroke="#f2f2f2" stroke-width="0.7"/>
<line x1="124.9" y1="315.39" x2="163.1" y2="315.39" stroke="#ebebeb" stroke-width="0.9"/>
<line x1="124.9" y1="308.17" x2="163.1" y2="308.17" stroke="#f2f2f2" stroke-width="0.7"/>
<line x1="124.9" y1="300.95" x2="163.1" y2="300.95" stroke="#ebebeb" stroke-width="0.9"/>
<line x1="124.9" y1="293.73" x2="163.1" y2="293.73" stroke="#f2f2f2" stroke-width="0.7"/>
<line x1="124.9" y1="286.51" x2="163.1" y2="286.51" stroke="#ebebeb" stroke-width="0.9"/>
<line x1="124.9" y1="279.29" x2="163.1" y2="279.29" stroke="#f2f2f2" stroke-width="0.7"/>
<line x1="124.9" y1="272.07" x2="163.1" y2="272.07" stroke="#ebebeb" stroke-width="0.9"/>
<line x1="124.9" y1="264.85" x2="163.1" y2="264.85" stroke="#f2f2f2" stroke-width="0.7"/>
<line x1="124.9" y1="257.63" x2="163.1" y2="257.63" stroke="#ebebeb" stroke-width="0.9"/>
<line x1="124.9" y1="250.41" x2="163.1" y2="250.41" stroke="#f2f2f2" stroke-width="0.7"/>
<line x1="124.9" y1="243.19" x2="163.1" y2="243.19" stroke="#ebebeb" stroke-width="0.9"/>
<line x1="124.9" y1="235.97" x2="163.1" y2="235.97" stroke="#f2f2f2" stroke-width="0.7"/>
<line x1="124.9" y1="228.75" x2="163.1" y2="228.75" stroke="#ebebeb" stroke-width="0.9"/>
<line x1="135.15" y1="283.19" x2="135.15" y2="328.24" stroke="#e43036" stroke-width="1.4"/>
<path d="M132.45 303.02L137.85 308.42M132.45 308.42L137.85 303.02" stroke="#d42a30" stroke-width="1.0" fill="none"/>
<line x1="135.15" y1="279.29" x2="135.15" y2="290.84" stroke="#e43036" stroke-width="1.4"/>
<circle cx="135.15" cy="285.07" r="2.25" fill="#ff0000"/>
<line x1="152.9" y1="278.86" x2="152.9" y2="323.91" stroke="#2424c8" stroke-width="1.4"/>
<path d="M150.2 298.68L155.6 304.08M150.2 304.08L155.6 298.68" stroke="#1c1cb8" stroke-width="1.0" fill="none"/>
<line x1="152.9" y1="278.42" x2="152.9" y2="291.13" stroke="#2424c8" stroke-width="1.4"/>
<circle cx="152.9" cy="284.78" r="2.25" fill="#0000ff"/>
<rect x="124.9" y="223.2" width="38.2" height="126.5" fill="none" stroke="#606060" stroke-width="0.9"/>
<rect x="124.9" y="208.8" width="38.2" height="14.4" fill="#fff" stroke="#606060" stroke-width="0.9"/>
<text x="144" y="218.6" font-size="7" fill="#1a1a1a" text-anchor="middle">Purity</text>
<line x1="124.9" y1="223.35" x2="163.1" y2="223.35" stroke="#606060" stroke-width="1.3"/>
<line x1="168.55" y1="344.27" x2="206.75" y2="344.27" stroke="#ebebeb" stroke-width="0.9"/>
<line x1="168.55" y1="337.05" x2="206.75" y2="337.05" stroke="#f2f2f2" stroke-width="0.7"/>
<line x1="168.55" y1="329.83" x2="206.75" y2="329.83" stroke="#ebebeb" stroke-width="0.9"/>
<line x1="168.55" y1="322.61" x2="206.75" y2="322.61" stroke="#f2f2f2" stroke-width="0.7"/>
<line x1="168.55" y1="315.39" x2="206.75" y2="315.39" stroke="#ebebeb" stroke-width="0.9"/>
<line x1="168.55" y1="308.17" x2="206.75" y2="308.17" stroke="#f2f2f2" stroke-width="0.7"/>
<line x1="168.55" y1="300.95" x2="206.75" y2="300.95" stroke="#ebebeb" stroke-width="0.9"/>
<line x1="168.55" y1="293.73" x2="206.75" y2="293.73" stroke="#f2f2f2" stroke-width="0.7"/>
<line x1="168.55" y1="286.51" x2="206.75" y2="286.51" stroke="#ebebeb" stroke-width="0.9"/>
<line x1="168.55" y1="279.29" x2="206.75" y2="279.29" stroke="#f2f2f2" stroke-width="0.7"/>
<line x1="168.55" y1="272.07" x2="206.75" y2="272.07" stroke="#ebebeb" stroke-width="0.9"/>
<line x1="168.55" y1="264.85" x2="206.75" y2="264.85" stroke="#f2f2f2" stroke-width="0.7"/>
<line x1="168.55" y1="257.63" x2="206.75" y2="257.63" stroke="#ebebeb" stroke-width="0.9"/>
<line x1="168.55" y1="250.41" x2="206.75" y2="250.41" stroke="#f2f2f2" stroke-width="0.7"/>
<line x1="168.55" y1="243.19" x2="206.75" y2="243.19" stroke="#ebebeb" stroke-width="0.9"/>
<line x1="168.55" y1="235.97" x2="206.75" y2="235.97" stroke="#f2f2f2" stroke-width="0.7"/>
<line x1="168.55" y1="228.75" x2="206.75" y2="228.75" stroke="#ebebeb" stroke-width="0.9"/>
<line x1="178.8" y1="280.01" x2="178.8" y2="325.06" stroke="#e43036" stroke-width="1.4"/>
<path d="M176.1 299.84L181.5 305.24M176.1 305.24L181.5 299.84" stroke="#d42a30" stroke-width="1.0" fill="none"/>
<line x1="178.8" y1="281.17" x2="178.8" y2="295.61" stroke="#e43036" stroke-width="1.4"/>
<circle cx="178.8" cy="288.39" r="2.25" fill="#ff0000"/>
<line x1="196.55" y1="265.43" x2="196.55" y2="310.48" stroke="#2424c8" stroke-width="1.4"/>
<path d="M193.85 285.25L199.25 290.65M193.85 290.65L199.25 285.25" stroke="#1c1cb8" stroke-width="1.0" fill="none"/>
<line x1="196.55" y1="266.44" x2="196.55" y2="280.88" stroke="#2424c8" stroke-width="1.4"/>
<circle cx="196.55" cy="273.66" r="2.25" fill="#0000ff"/>
<rect x="168.55" y="223.2" width="38.2" height="126.5" fill="none" stroke="#606060" stroke-width="0.9"/>
<rect x="168.55" y="208.8" width="38.2" height="14.4" fill="#fff" stroke="#606060" stroke-width="0.9"/>
<text x="187.65" y="218.6" font-size="7" fill="#1a1a1a" text-anchor="middle">Self</text>
<line x1="168.55" y1="223.35" x2="206.75" y2="223.35" stroke="#606060" stroke-width="1.3"/>
<line x1="212.2" y1="344.27" x2="250.4" y2="344.27" stroke="#ebebeb" stroke-width="0.9"/>
<line x1="212.2" y1="337.05" x2="250.4" y2="337.05" stroke="#f2f2f2" stroke-width="0.7"/>
<line x1="212.2" y1="329.83" x2="250.4" y2="329.83" stroke="#ebebeb" stroke-width="0.9"/>
<line x1="212.2" y1="322.61" x2="250.4" y2="322.61" stroke="#f2f2f2" stroke-width="0.7"/>
<line x1="212.2" y1="315.39" x2="250.4" y2="315.39" stroke="#ebebeb" stroke-width="0.9"/>
<line x1="212.2" y1="308.17" x2="250.4" y2="308.17" stroke="#f2f2f2" stroke-width="0.7"/>
<line x1="212.2" y1="300.95" x2="250.4" y2="300.95" stroke="#ebebeb" stroke-width="0.9"/>
<line x1="212.2" y1="293.73" x2="250.4" y2="293.73" stroke="#f2f2f2" stroke-width="0.7"/>
<line x1="212.2" y1="286.51" x2="250.4" y2="286.51" stroke="#ebebeb" stroke-width="0.9"/>
<line x1="212.2" y1="279.29" x2="250.4" y2="279.29" stroke="#f2f2f2" stroke-width="0.7"/>
<line x1="212.2" y1="272.07" x2="250.4" y2="272.07" stroke="#ebebeb" stroke-width="0.9"/>
<line x1="212.2" y1="264.85" x2="250.4" y2="264.85" stroke="#f2f2f2" stroke-width="0.7"/>
<line x1="212.2" y1="257.63" x2="250.4" y2="257.63" stroke="#ebebeb" stroke-width="0.9"/>
<line x1="212.2" y1="250.41" x2="250.4" y2="250.41" stroke="#f2f2f2" stroke-width="0.7"/>
<line x1="212.2" y1="243.19" x2="250.4" y2="243.19" stroke="#ebebeb" stroke-width="0.9"/>
<line x1="212.2" y1="235.97" x2="250.4" y2="235.97" stroke="#f2f2f2" stroke-width="0.7"/>
<line x1="212.2" y1="228.75" x2="250.4" y2="228.75" stroke="#ebebeb" stroke-width="0.9"/>
<line x1="222.45" y1="274.09" x2="222.45" y2="319.14" stroke="#e43036" stroke-width="1.4"/>
<path d="M219.75 293.92L225.15 299.32M219.75 299.32L225.15 293.92" stroke="#d42a30" stroke-width="1.0" fill="none"/>
<line x1="222.45" y1="287.23" x2="222.45" y2="301.67" stroke="#e43036" stroke-width="1.4"/>
<circle cx="222.45" cy="294.45" r="2.25" fill="#ff0000"/>
<line x1="240.2" y1="284.63" x2="240.2" y2="329.69" stroke="#2424c8" stroke-width="1.4"/>
<path d="M237.5 304.46L242.9 309.86M237.5 309.86L242.9 304.46" stroke="#1c1cb8" stroke-width="1.0" fill="none"/>
<line x1="240.2" y1="250.41" x2="240.2" y2="262.25" stroke="#2424c8" stroke-width="1.4"/>
<circle cx="240.2" cy="256.33" r="2.25" fill="#0000ff"/>
<rect x="212.2" y="223.2" width="38.2" height="126.5" fill="none" stroke="#606060" stroke-width="0.9"/>
<rect x="212.2" y="208.8" width="38.2" height="14.4" fill="#fff" stroke="#606060" stroke-width="0.9"/>
<text x="231.3" y="218.6" font-size="7" fill="#1a1a1a" text-anchor="middle">Community</text>
<line x1="212.2" y1="223.35" x2="250.4" y2="223.35" stroke="#606060" stroke-width="1.3"/>
<line x1="255.85" y1="344.27" x2="294.05" y2="344.27" stroke="#ebebeb" stroke-width="0.9"/>
<line x1="255.85" y1="337.05" x2="294.05" y2="337.05" stroke="#f2f2f2" stroke-width="0.7"/>
<line x1="255.85" y1="329.83" x2="294.05" y2="329.83" stroke="#ebebeb" stroke-width="0.9"/>
<line x1="255.85" y1="322.61" x2="294.05" y2="322.61" stroke="#f2f2f2" stroke-width="0.7"/>
<line x1="255.85" y1="315.39" x2="294.05" y2="315.39" stroke="#ebebeb" stroke-width="0.9"/>
<line x1="255.85" y1="308.17" x2="294.05" y2="308.17" stroke="#f2f2f2" stroke-width="0.7"/>
<line x1="255.85" y1="300.95" x2="294.05" y2="300.95" stroke="#ebebeb" stroke-width="0.9"/>
<line x1="255.85" y1="293.73" x2="294.05" y2="293.73" stroke="#f2f2f2" stroke-width="0.7"/>
<line x1="255.85" y1="286.51" x2="294.05" y2="286.51" stroke="#ebebeb" stroke-width="0.9"/>
<line x1="255.85" y1="279.29" x2="294.05" y2="279.29" stroke="#f2f2f2" stroke-width="0.7"/>
<line x1="255.85" y1="272.07" x2="294.05" y2="272.07" stroke="#ebebeb" stroke-width="0.9"/>
<line x1="255.85" y1="264.85" x2="294.05" y2="264.85" stroke="#f2f2f2" stroke-width="0.7"/>
<line x1="255.85" y1="257.63" x2="294.05" y2="257.63" stroke="#ebebeb" stroke-width="0.9"/>
<line x1="255.85" y1="250.41" x2="294.05" y2="250.41" stroke="#f2f2f2" stroke-width="0.7"/>
<line x1="255.85" y1="243.19" x2="294.05" y2="243.19" stroke="#ebebeb" stroke-width="0.9"/>
<line x1="255.85" y1="235.97" x2="294.05" y2="235.97" stroke="#f2f2f2" stroke-width="0.7"/>
<line x1="255.85" y1="228.75" x2="294.05" y2="228.75" stroke="#ebebeb" stroke-width="0.9"/>
<line x1="266.1" y1="294.45" x2="266.1" y2="339.5" stroke="#e43036" stroke-width="1.4"/>
<path d="M263.4 314.28L268.8 319.68M263.4 319.68L268.8 314.28" stroke="#d42a30" stroke-width="1.0" fill="none"/>
<line x1="266.1" y1="300.08" x2="266.1" y2="314.52" stroke="#e43036" stroke-width="1.4"/>
<circle cx="266.1" cy="307.3" r="2.25" fill="#ff0000"/>
<line x1="283.85" y1="294.45" x2="283.85" y2="339.5" stroke="#2424c8" stroke-width="1.4"/>
<path d="M281.15 314.28L286.55 319.68M281.15 319.68L286.55 314.28" stroke="#1c1cb8" stroke-width="1.0" fill="none"/>
<line x1="283.85" y1="248.97" x2="283.85" y2="261.67" stroke="#2424c8" stroke-width="1.4"/>
<circle cx="283.85" cy="255.32" r="2.25" fill="#0000ff"/>
<rect x="255.85" y="223.2" width="38.2" height="126.5" fill="none" stroke="#606060" stroke-width="0.9"/>
<rect x="255.85" y="208.8" width="38.2" height="14.4" fill="#fff" stroke="#606060" stroke-width="0.9"/>
<text x="274.95" y="218.6" font-size="7" fill="#1a1a1a" text-anchor="middle">Science</text>
<line x1="255.85" y1="223.35" x2="294.05" y2="223.35" stroke="#606060" stroke-width="1.3"/>
<line x1="299.5" y1="344.27" x2="337.7" y2="344.27" stroke="#ebebeb" stroke-width="0.9"/>
<line x1="299.5" y1="337.05" x2="337.7" y2="337.05" stroke="#f2f2f2" stroke-width="0.7"/>
<line x1="299.5" y1="329.83" x2="337.7" y2="329.83" stroke="#ebebeb" stroke-width="0.9"/>
<line x1="299.5" y1="322.61" x2="337.7" y2="322.61" stroke="#f2f2f2" stroke-width="0.7"/>
<line x1="299.5" y1="315.39" x2="337.7" y2="315.39" stroke="#ebebeb" stroke-width="0.9"/>
<line x1="299.5" y1="308.17" x2="337.7" y2="308.17" stroke="#f2f2f2" stroke-width="0.7"/>
<line x1="299.5" y1="300.95" x2="337.7" y2="300.95" stroke="#ebebeb" stroke-width="0.9"/>
<line x1="299.5" y1="293.73" x2="337.7" y2="293.73" stroke="#f2f2f2" stroke-width="0.7"/>
<line x1="299.5" y1="286.51" x2="337.7" y2="286.51" stroke="#ebebeb" stroke-width="0.9"/>
<line x1="299.5" y1="279.29" x2="337.7" y2="279.29" stroke="#f2f2f2" stroke-width="0.7"/>
<line x1="299.5" y1="272.07" x2="337.7" y2="272.07" stroke="#ebebeb" stroke-width="0.9"/>
<line x1="299.5" y1="264.85" x2="337.7" y2="264.85" stroke="#f2f2f2" stroke-width="0.7"/>
<line x1="299.5" y1="257.63" x2="337.7" y2="257.63" stroke="#ebebeb" stroke-width="0.9"/>
<line x1="299.5" y1="250.41" x2="337.7" y2="250.41" stroke="#f2f2f2" stroke-width="0.7"/>
<line x1="299.5" y1="243.19" x2="337.7" y2="243.19" stroke="#ebebeb" stroke-width="0.9"/>
<line x1="299.5" y1="235.97" x2="337.7" y2="235.97" stroke="#f2f2f2" stroke-width="0.7"/>
<line x1="299.5" y1="228.75" x2="337.7" y2="228.75" stroke="#ebebeb" stroke-width="0.9"/>
<line x1="309.75" y1="277.12" x2="309.75" y2="322.18" stroke="#e43036" stroke-width="1.4"/>
<path d="M307.05 296.95L312.45 302.35M307.05 302.35L312.45 296.95" stroke="#d42a30" stroke-width="1.0" fill="none"/>
<line x1="309.75" y1="288.39" x2="309.75" y2="302.83" stroke="#e43036" stroke-width="1.4"/>
<circle cx="309.75" cy="295.61" r="2.25" fill="#ff0000"/>
<line x1="327.5" y1="284.63" x2="327.5" y2="329.69" stroke="#2424c8" stroke-width="1.4"/>
<path d="M324.8 304.46L330.2 309.86M324.8 309.86L330.2 304.46" stroke="#1c1cb8" stroke-width="1.0" fill="none"/>
<line x1="327.5" y1="251.85" x2="327.5" y2="263.12" stroke="#2424c8" stroke-width="1.4"/>
<circle cx="327.5" cy="257.49" r="2.25" fill="#0000ff"/>
<rect x="299.5" y="223.2" width="38.2" height="126.5" fill="none" stroke="#606060" stroke-width="0.9"/>
<rect x="299.5" y="208.8" width="38.2" height="14.4" fill="#fff" stroke="#606060" stroke-width="0.9"/>
<text x="318.6" y="218.6" font-size="7" fill="#1a1a1a" text-anchor="middle">Threat</text>
<line x1="299.5" y1="223.35" x2="337.7" y2="223.35" stroke="#606060" stroke-width="1.3"/>
<text x="187.65" y="360.6" font-size="10.85" fill="#1a1a1a" text-anchor="middle">Nudge</text>
<text x="337.4" y="373.5" font-size="7.9" fill="#1a1a1a" text-anchor="end">Number of forecasters = 121</text>
<text x="382.8" y="201.65" font-size="10.8" fill="#1a1a1a">Academics</text>
<text x="378.3" y="347.77" font-size="8.9" fill="#333" text-anchor="end">-0.3</text>
<line x1="380.5" y1="344.32" x2="383" y2="344.32" stroke="#555" stroke-width="0.9"/>
<text x="378.3" y="333.33" font-size="8.9" fill="#333" text-anchor="end">-0.2</text>
<line x1="380.5" y1="329.88" x2="383" y2="329.88" stroke="#555" stroke-width="0.9"/>
<text x="378.3" y="318.89" font-size="8.9" fill="#333" text-anchor="end">-0.1</text>
<line x1="380.5" y1="315.44" x2="383" y2="315.44" stroke="#555" stroke-width="0.9"/>
<text x="378.3" y="304.45" font-size="8.9" fill="#333" text-anchor="end">0.0</text>
<line x1="380.5" y1="301" x2="383" y2="301" stroke="#555" stroke-width="0.9"/>
<text x="378.3" y="290.01" font-size="8.9" fill="#333" text-anchor="end">0.1</text>
<line x1="380.5" y1="286.56" x2="383" y2="286.56" stroke="#555" stroke-width="0.9"/>
<text x="378.3" y="275.57" font-size="8.9" fill="#333" text-anchor="end">0.2</text>
<line x1="380.5" y1="272.12" x2="383" y2="272.12" stroke="#555" stroke-width="0.9"/>
<text x="378.3" y="261.13" font-size="8.9" fill="#333" text-anchor="end">0.3</text>
<line x1="380.5" y1="257.68" x2="383" y2="257.68" stroke="#555" stroke-width="0.9"/>
<text x="378.3" y="246.69" font-size="8.9" fill="#333" text-anchor="end">0.4</text>
<line x1="380.5" y1="243.24" x2="383" y2="243.24" stroke="#555" stroke-width="0.9"/>
<text x="378.3" y="232.25" font-size="8.9" fill="#333" text-anchor="end">0.5</text>
<line x1="380.5" y1="228.8" x2="383" y2="228.8" stroke="#555" stroke-width="0.9"/>
<text transform="translate(355.45,286.15) rotate(-90)" font-size="10.85" fill="#1a1a1a" text-anchor="middle">Effect Size (Cohen's d)</text>
<line x1="383" y1="344.32" x2="421.1" y2="344.32" stroke="#ebebeb" stroke-width="0.9"/>
<line x1="383" y1="337.1" x2="421.1" y2="337.1" stroke="#f2f2f2" stroke-width="0.7"/>
<line x1="383" y1="329.88" x2="421.1" y2="329.88" stroke="#ebebeb" stroke-width="0.9"/>
<line x1="383" y1="322.66" x2="421.1" y2="322.66" stroke="#f2f2f2" stroke-width="0.7"/>
<line x1="383" y1="315.44" x2="421.1" y2="315.44" stroke="#ebebeb" stroke-width="0.9"/>
<line x1="383" y1="308.22" x2="421.1" y2="308.22" stroke="#f2f2f2" stroke-width="0.7"/>
<line x1="383" y1="301" x2="421.1" y2="301" stroke="#ebebeb" stroke-width="0.9"/>
<line x1="383" y1="293.78" x2="421.1" y2="293.78" stroke="#f2f2f2" stroke-width="0.7"/>
<line x1="383" y1="286.56" x2="421.1" y2="286.56" stroke="#ebebeb" stroke-width="0.9"/>
<line x1="383" y1="279.34" x2="421.1" y2="279.34" stroke="#f2f2f2" stroke-width="0.7"/>
<line x1="383" y1="272.12" x2="421.1" y2="272.12" stroke="#ebebeb" stroke-width="0.9"/>
<line x1="383" y1="264.9" x2="421.1" y2="264.9" stroke="#f2f2f2" stroke-width="0.7"/>
<line x1="383" y1="257.68" x2="421.1" y2="257.68" stroke="#ebebeb" stroke-width="0.9"/>
<line x1="383" y1="250.46" x2="421.1" y2="250.46" stroke="#f2f2f2" stroke-width="0.7"/>
<line x1="383" y1="243.24" x2="421.1" y2="243.24" stroke="#ebebeb" stroke-width="0.9"/>
<line x1="383" y1="236.02" x2="421.1" y2="236.02" stroke="#f2f2f2" stroke-width="0.7"/>
<line x1="383" y1="228.8" x2="421.1" y2="228.8" stroke="#ebebeb" stroke-width="0.9"/>
<line x1="393.2" y1="291.47" x2="393.2" y2="336.52" stroke="#e43036" stroke-width="1.4"/>
<path d="M390.5 311.3L395.9 316.7M390.5 316.7L395.9 311.3" stroke="#d42a30" stroke-width="1.0" fill="none"/>
<line x1="393.2" y1="272.12" x2="393.2" y2="280.21" stroke="#e43036" stroke-width="1.4"/>
<circle cx="393.2" cy="276.16" r="2.25" fill="#ff0000"/>
<line x1="410.7" y1="269.67" x2="410.7" y2="314.72" stroke="#2424c8" stroke-width="1.4"/>
<path d="M408 289.49L413.4 294.89M408 294.89L413.4 289.49" stroke="#1c1cb8" stroke-width="1.0" fill="none"/>
<line x1="410.7" y1="287.72" x2="410.7" y2="296.38" stroke="#2424c8" stroke-width="1.4"/>
<circle cx="410.7" cy="292.05" r="2.25" fill="#0000ff"/>
<rect x="383" y="223.2" width="38.1" height="126.5" fill="none" stroke="#606060" stroke-width="0.9"/>
<rect x="383" y="208.8" width="38.1" height="14.4" fill="#fff" stroke="#606060" stroke-width="0.9"/>
<text x="402.05" y="218.6" font-size="7" fill="#1a1a1a" text-anchor="middle">USA</text>
<line x1="383" y1="223.35" x2="421.1" y2="223.35" stroke="#606060" stroke-width="1.3"/>
<line x1="426.58" y1="344.32" x2="464.68" y2="344.32" stroke="#ebebeb" stroke-width="0.9"/>
<line x1="426.58" y1="337.1" x2="464.68" y2="337.1" stroke="#f2f2f2" stroke-width="0.7"/>
<line x1="426.58" y1="329.88" x2="464.68" y2="329.88" stroke="#ebebeb" stroke-width="0.9"/>
<line x1="426.58" y1="322.66" x2="464.68" y2="322.66" stroke="#f2f2f2" stroke-width="0.7"/>
<line x1="426.58" y1="315.44" x2="464.68" y2="315.44" stroke="#ebebeb" stroke-width="0.9"/>
<line x1="426.58" y1="308.22" x2="464.68" y2="308.22" stroke="#f2f2f2" stroke-width="0.7"/>
<line x1="426.58" y1="301" x2="464.68" y2="301" stroke="#ebebeb" stroke-width="0.9"/>
<line x1="426.58" y1="293.78" x2="464.68" y2="293.78" stroke="#f2f2f2" stroke-width="0.7"/>
<line x1="426.58" y1="286.56" x2="464.68" y2="286.56" stroke="#ebebeb" stroke-width="0.9"/>
<line x1="426.58" y1="279.34" x2="464.68" y2="279.34" stroke="#f2f2f2" stroke-width="0.7"/>
<line x1="426.58" y1="272.12" x2="464.68" y2="272.12" stroke="#ebebeb" stroke-width="0.9"/>
<line x1="426.58" y1="264.9" x2="464.68" y2="264.9" stroke="#f2f2f2" stroke-width="0.7"/>
<line x1="426.58" y1="257.68" x2="464.68" y2="257.68" stroke="#ebebeb" stroke-width="0.9"/>
<line x1="426.58" y1="250.46" x2="464.68" y2="250.46" stroke="#f2f2f2" stroke-width="0.7"/>
<line x1="426.58" y1="243.24" x2="464.68" y2="243.24" stroke="#ebebeb" stroke-width="0.9"/>
<line x1="426.58" y1="236.02" x2="464.68" y2="236.02" stroke="#f2f2f2" stroke-width="0.7"/>
<line x1="426.58" y1="228.8" x2="464.68" y2="228.8" stroke="#ebebeb" stroke-width="0.9"/>
<line x1="436.78" y1="277.17" x2="436.78" y2="322.23" stroke="#e43036" stroke-width="1.4"/>
<path d="M434.08 297L439.48 302.4M434.08 302.4L439.48 297" stroke="#d42a30" stroke-width="1.0" fill="none"/>
<line x1="436.78" y1="271.69" x2="436.78" y2="278.91" stroke="#e43036" stroke-width="1.4"/>
<circle cx="436.78" cy="275.3" r="2.25" fill="#ff0000"/>
<line x1="454.28" y1="272.41" x2="454.28" y2="317.46" stroke="#2424c8" stroke-width="1.4"/>
<path d="M451.58 292.24L456.98 297.64M451.58 297.64L456.98 292.24" stroke="#1c1cb8" stroke-width="1.0" fill="none"/>
<line x1="454.28" y1="276.16" x2="454.28" y2="284.83" stroke="#2424c8" stroke-width="1.4"/>
<circle cx="454.28" cy="280.5" r="2.25" fill="#0000ff"/>
<rect x="426.58" y="223.2" width="38.1" height="126.5" fill="none" stroke="#606060" stroke-width="0.9"/>
<rect x="426.58" y="208.8" width="38.1" height="14.4" fill="#fff" stroke="#606060" stroke-width="0.9"/>
<text x="445.63" y="218.6" font-size="7" fill="#1a1a1a" text-anchor="middle">Economy</text>
<line x1="426.58" y1="223.35" x2="464.68" y2="223.35" stroke="#606060" stroke-width="1.3"/>
<line x1="470.16" y1="344.32" x2="508.26" y2="344.32" stroke="#ebebeb" stroke-width="0.9"/>
<line x1="470.16" y1="337.1" x2="508.26" y2="337.1" stroke="#f2f2f2" stroke-width="0.7"/>
<line x1="470.16" y1="329.88" x2="508.26" y2="329.88" stroke="#ebebeb" stroke-width="0.9"/>
<line x1="470.16" y1="322.66" x2="508.26" y2="322.66" stroke="#f2f2f2" stroke-width="0.7"/>
<line x1="470.16" y1="315.44" x2="508.26" y2="315.44" stroke="#ebebeb" stroke-width="0.9"/>
<line x1="470.16" y1="308.22" x2="508.26" y2="308.22" stroke="#f2f2f2" stroke-width="0.7"/>
<line x1="470.16" y1="301" x2="508.26" y2="301" stroke="#ebebeb" stroke-width="0.9"/>
<line x1="470.16" y1="293.78" x2="508.26" y2="293.78" stroke="#f2f2f2" stroke-width="0.7"/>
<line x1="470.16" y1="286.56" x2="508.26" y2="286.56" stroke="#ebebeb" stroke-width="0.9"/>
<line x1="470.16" y1="279.34" x2="508.26" y2="279.34" stroke="#f2f2f2" stroke-width="0.7"/>
<line x1="470.16" y1="272.12" x2="508.26" y2="272.12" stroke="#ebebeb" stroke-width="0.9"/>
<line x1="470.16" y1="264.9" x2="508.26" y2="264.9" stroke="#f2f2f2" stroke-width="0.7"/>
<line x1="470.16" y1="257.68" x2="508.26" y2="257.68" stroke="#ebebeb" stroke-width="0.9"/>
<line x1="470.16" y1="250.46" x2="508.26" y2="250.46" stroke="#f2f2f2" stroke-width="0.7"/>
<line x1="470.16" y1="243.24" x2="508.26" y2="243.24" stroke="#ebebeb" stroke-width="0.9"/>
<line x1="470.16" y1="236.02" x2="508.26" y2="236.02" stroke="#f2f2f2" stroke-width="0.7"/>
<line x1="470.16" y1="228.8" x2="508.26" y2="228.8" stroke="#ebebeb" stroke-width="0.9"/>
<line x1="480.36" y1="283.24" x2="480.36" y2="328.29" stroke="#e43036" stroke-width="1.4"/>
<path d="M477.66 303.07L483.06 308.47M477.66 308.47L483.06 303.07" stroke="#d42a30" stroke-width="1.0" fill="none"/>
<line x1="480.36" y1="286.56" x2="480.36" y2="295.22" stroke="#e43036" stroke-width="1.4"/>
<circle cx="480.36" cy="290.89" r="2.25" fill="#ff0000"/>
<line x1="497.86" y1="278.91" x2="497.86" y2="323.96" stroke="#2424c8" stroke-width="1.4"/>
<path d="M495.16 298.73L500.56 304.13M495.16 304.13L500.56 298.73" stroke="#1c1cb8" stroke-width="1.0" fill="none"/>
<line x1="497.86" y1="283.09" x2="497.86" y2="291.76" stroke="#2424c8" stroke-width="1.4"/>
<circle cx="497.86" cy="287.43" r="2.25" fill="#0000ff"/>
<rect x="470.16" y="223.2" width="38.1" height="126.5" fill="none" stroke="#606060" stroke-width="0.9"/>
<rect x="470.16" y="208.8" width="38.1" height="14.4" fill="#fff" stroke="#606060" stroke-width="0.9"/>
<text x="489.21" y="218.6" font-size="7" fill="#1a1a1a" text-anchor="middle">Purity</text>
<line x1="470.16" y1="223.35" x2="508.26" y2="223.35" stroke="#606060" stroke-width="1.3"/>
<line x1="513.74" y1="344.32" x2="551.84" y2="344.32" stroke="#ebebeb" stroke-width="0.9"/>
<line x1="513.74" y1="337.1" x2="551.84" y2="337.1" stroke="#f2f2f2" stroke-width="0.7"/>
<line x1="513.74" y1="329.88" x2="551.84" y2="329.88" stroke="#ebebeb" stroke-width="0.9"/>
<line x1="513.74" y1="322.66" x2="551.84" y2="322.66" stroke="#f2f2f2" stroke-width="0.7"/>
<line x1="513.74" y1="315.44" x2="551.84" y2="315.44" stroke="#ebebeb" stroke-width="0.9"/>
<line x1="513.74" y1="308.22" x2="551.84" y2="308.22" stroke="#f2f2f2" stroke-width="0.7"/>
<line x1="513.74" y1="301" x2="551.84" y2="301" stroke="#ebebeb" stroke-width="0.9"/>
<line x1="513.74" y1="293.78" x2="551.84" y2="293.78" stroke="#f2f2f2" stroke-width="0.7"/>
<line x1="513.74" y1="286.56" x2="551.84" y2="286.56" stroke="#ebebeb" stroke-width="0.9"/>
<line x1="513.74" y1="279.34" x2="551.84" y2="279.34" stroke="#f2f2f2" stroke-width="0.7"/>
<line x1="513.74" y1="272.12" x2="551.84" y2="272.12" stroke="#ebebeb" stroke-width="0.9"/>
<line x1="513.74" y1="264.9" x2="551.84" y2="264.9" stroke="#f2f2f2" stroke-width="0.7"/>
<line x1="513.74" y1="257.68" x2="551.84" y2="257.68" stroke="#ebebeb" stroke-width="0.9"/>
<line x1="513.74" y1="250.46" x2="551.84" y2="250.46" stroke="#f2f2f2" stroke-width="0.7"/>
<line x1="513.74" y1="243.24" x2="551.84" y2="243.24" stroke="#ebebeb" stroke-width="0.9"/>
<line x1="513.74" y1="236.02" x2="551.84" y2="236.02" stroke="#f2f2f2" stroke-width="0.7"/>
<line x1="513.74" y1="228.8" x2="551.84" y2="228.8" stroke="#ebebeb" stroke-width="0.9"/>
<line x1="523.94" y1="280.06" x2="523.94" y2="325.11" stroke="#e43036" stroke-width="1.4"/>
<path d="M521.24 299.89L526.64 305.29M521.24 305.29L526.64 299.89" stroke="#d42a30" stroke-width="1.0" fill="none"/>
<line x1="523.94" y1="288.44" x2="523.94" y2="297.1" stroke="#e43036" stroke-width="1.4"/>
<circle cx="523.94" cy="292.77" r="2.25" fill="#ff0000"/>
<line x1="541.44" y1="265.48" x2="541.44" y2="310.53" stroke="#2424c8" stroke-width="1.4"/>
<path d="M538.74 285.3L544.14 290.7M538.74 290.7L544.14 285.3" stroke="#1c1cb8" stroke-width="1.0" fill="none"/>
<line x1="541.44" y1="276.45" x2="541.44" y2="285.12" stroke="#2424c8" stroke-width="1.4"/>
<circle cx="541.44" cy="280.78" r="2.25" fill="#0000ff"/>
<rect x="513.74" y="223.2" width="38.1" height="126.5" fill="none" stroke="#606060" stroke-width="0.9"/>
<rect x="513.74" y="208.8" width="38.1" height="14.4" fill="#fff" stroke="#606060" stroke-width="0.9"/>
<text x="532.79" y="218.6" font-size="7" fill="#1a1a1a" text-anchor="middle">Self</text>
<line x1="513.74" y1="223.35" x2="551.84" y2="223.35" stroke="#606060" stroke-width="1.3"/>
<line x1="557.32" y1="344.32" x2="595.42" y2="344.32" stroke="#ebebeb" stroke-width="0.9"/>
<line x1="557.32" y1="337.1" x2="595.42" y2="337.1" stroke="#f2f2f2" stroke-width="0.7"/>
<line x1="557.32" y1="329.88" x2="595.42" y2="329.88" stroke="#ebebeb" stroke-width="0.9"/>
<line x1="557.32" y1="322.66" x2="595.42" y2="322.66" stroke="#f2f2f2" stroke-width="0.7"/>
<line x1="557.32" y1="315.44" x2="595.42" y2="315.44" stroke="#ebebeb" stroke-width="0.9"/>
<line x1="557.32" y1="308.22" x2="595.42" y2="308.22" stroke="#f2f2f2" stroke-width="0.7"/>
<line x1="557.32" y1="301" x2="595.42" y2="301" stroke="#ebebeb" stroke-width="0.9"/>
<line x1="557.32" y1="293.78" x2="595.42" y2="293.78" stroke="#f2f2f2" stroke-width="0.7"/>
<line x1="557.32" y1="286.56" x2="595.42" y2="286.56" stroke="#ebebeb" stroke-width="0.9"/>
<line x1="557.32" y1="279.34" x2="595.42" y2="279.34" stroke="#f2f2f2" stroke-width="0.7"/>
<line x1="557.32" y1="272.12" x2="595.42" y2="272.12" stroke="#ebebeb" stroke-width="0.9"/>
<line x1="557.32" y1="264.9" x2="595.42" y2="264.9" stroke="#f2f2f2" stroke-width="0.7"/>
<line x1="557.32" y1="257.68" x2="595.42" y2="257.68" stroke="#ebebeb" stroke-width="0.9"/>
<line x1="557.32" y1="250.46" x2="595.42" y2="250.46" stroke="#f2f2f2" stroke-width="0.7"/>
<line x1="557.32" y1="243.24" x2="595.42" y2="243.24" stroke="#ebebeb" stroke-width="0.9"/>
<line x1="557.32" y1="236.02" x2="595.42" y2="236.02" stroke="#f2f2f2" stroke-width="0.7"/>
<line x1="557.32" y1="228.8" x2="595.42" y2="228.8" stroke="#ebebeb" stroke-width="0.9"/>
<line x1="567.52" y1="274.14" x2="567.52" y2="319.19" stroke="#e43036" stroke-width="1.4"/>
<path d="M564.82 293.97L570.22 299.37M564.82 299.37L570.22 293.97" stroke="#d42a30" stroke-width="1.0" fill="none"/>
<line x1="567.52" y1="286.27" x2="567.52" y2="294.94" stroke="#e43036" stroke-width="1.4"/>
<circle cx="567.52" cy="290.6" r="2.25" fill="#ff0000"/>
<line x1="585.02" y1="284.68" x2="585.02" y2="329.74" stroke="#2424c8" stroke-width="1.4"/>
<path d="M582.32 304.51L587.72 309.91M582.32 309.91L587.72 304.51" stroke="#1c1cb8" stroke-width="1.0" fill="none"/>
<line x1="585.02" y1="265.33" x2="585.02" y2="273.13" stroke="#2424c8" stroke-width="1.4"/>
<circle cx="585.02" cy="269.23" r="2.25" fill="#0000ff"/>
<rect x="557.32" y="223.2" width="38.1" height="126.5" fill="none" stroke="#606060" stroke-width="0.9"/>
<rect x="557.32" y="208.8" width="38.1" height="14.4" fill="#fff" stroke="#606060" stroke-width="0.9"/>
<text x="576.37" y="218.6" font-size="7" fill="#1a1a1a" text-anchor="middle">Community</text>
<line x1="557.32" y1="223.35" x2="595.42" y2="223.35" stroke="#606060" stroke-width="1.3"/>
<line x1="600.9" y1="344.32" x2="639" y2="344.32" stroke="#ebebeb" stroke-width="0.9"/>
<line x1="600.9" y1="337.1" x2="639" y2="337.1" stroke="#f2f2f2" stroke-width="0.7"/>
<line x1="600.9" y1="329.88" x2="639" y2="329.88" stroke="#ebebeb" stroke-width="0.9"/>
<line x1="600.9" y1="322.66" x2="639" y2="322.66" stroke="#f2f2f2" stroke-width="0.7"/>
<line x1="600.9" y1="315.44" x2="639" y2="315.44" stroke="#ebebeb" stroke-width="0.9"/>
<line x1="600.9" y1="308.22" x2="639" y2="308.22" stroke="#f2f2f2" stroke-width="0.7"/>
<line x1="600.9" y1="301" x2="639" y2="301" stroke="#ebebeb" stroke-width="0.9"/>
<line x1="600.9" y1="293.78" x2="639" y2="293.78" stroke="#f2f2f2" stroke-width="0.7"/>
<line x1="600.9" y1="286.56" x2="639" y2="286.56" stroke="#ebebeb" stroke-width="0.9"/>
<line x1="600.9" y1="279.34" x2="639" y2="279.34" stroke="#f2f2f2" stroke-width="0.7"/>
<line x1="600.9" y1="272.12" x2="639" y2="272.12" stroke="#ebebeb" stroke-width="0.9"/>
<line x1="600.9" y1="264.9" x2="639" y2="264.9" stroke="#f2f2f2" stroke-width="0.7"/>
<line x1="600.9" y1="257.68" x2="639" y2="257.68" stroke="#ebebeb" stroke-width="0.9"/>
<line x1="600.9" y1="250.46" x2="639" y2="250.46" stroke="#f2f2f2" stroke-width="0.7"/>
<line x1="600.9" y1="243.24" x2="639" y2="243.24" stroke="#ebebeb" stroke-width="0.9"/>
<line x1="600.9" y1="236.02" x2="639" y2="236.02" stroke="#f2f2f2" stroke-width="0.7"/>
<line x1="600.9" y1="228.8" x2="639" y2="228.8" stroke="#ebebeb" stroke-width="0.9"/>
<line x1="611.1" y1="294.5" x2="611.1" y2="339.55" stroke="#e43036" stroke-width="1.4"/>
<path d="M608.4 314.33L613.8 319.73M608.4 319.73L613.8 314.33" stroke="#d42a30" stroke-width="1.0" fill="none"/>
<line x1="611.1" y1="302.01" x2="611.1" y2="310.67" stroke="#e43036" stroke-width="1.4"/>
<circle cx="611.1" cy="306.34" r="2.25" fill="#ff0000"/>
<line x1="628.6" y1="294.5" x2="628.6" y2="339.55" stroke="#2424c8" stroke-width="1.4"/>
<path d="M625.9 314.33L631.3 319.73M625.9 319.73L631.3 314.33" stroke="#1c1cb8" stroke-width="1.0" fill="none"/>
<line x1="628.6" y1="262.88" x2="628.6" y2="270.39" stroke="#2424c8" stroke-width="1.4"/>
<circle cx="628.6" cy="266.63" r="2.25" fill="#0000ff"/>
<rect x="600.9" y="223.2" width="38.1" height="126.5" fill="none" stroke="#606060" stroke-width="0.9"/>
<rect x="600.9" y="208.8" width="38.1" height="14.4" fill="#fff" stroke="#606060" stroke-width="0.9"/>
<text x="619.95" y="218.6" font-size="7" fill="#1a1a1a" text-anchor="middle">Science</text>
<line x1="600.9" y1="223.35" x2="639" y2="223.35" stroke="#606060" stroke-width="1.3"/>
<line x1="644.48" y1="344.32" x2="682.58" y2="344.32" stroke="#ebebeb" stroke-width="0.9"/>
<line x1="644.48" y1="337.1" x2="682.58" y2="337.1" stroke="#f2f2f2" stroke-width="0.7"/>
<line x1="644.48" y1="329.88" x2="682.58" y2="329.88" stroke="#ebebeb" stroke-width="0.9"/>
<line x1="644.48" y1="322.66" x2="682.58" y2="322.66" stroke="#f2f2f2" stroke-width="0.7"/>
<line x1="644.48" y1="315.44" x2="682.58" y2="315.44" stroke="#ebebeb" stroke-width="0.9"/>
<line x1="644.48" y1="308.22" x2="682.58" y2="308.22" stroke="#f2f2f2" stroke-width="0.7"/>
<line x1="644.48" y1="301" x2="682.58" y2="301" stroke="#ebebeb" stroke-width="0.9"/>
<line x1="644.48" y1="293.78" x2="682.58" y2="293.78" stroke="#f2f2f2" stroke-width="0.7"/>
<line x1="644.48" y1="286.56" x2="682.58" y2="286.56" stroke="#ebebeb" stroke-width="0.9"/>
<line x1="644.48" y1="279.34" x2="682.58" y2="279.34" stroke="#f2f2f2" stroke-width="0.7"/>
<line x1="644.48" y1="272.12" x2="682.58" y2="272.12" stroke="#ebebeb" stroke-width="0.9"/>
<line x1="644.48" y1="264.9" x2="682.58" y2="264.9" stroke="#f2f2f2" stroke-width="0.7"/>
<line x1="644.48" y1="257.68" x2="682.58" y2="257.68" stroke="#ebebeb" stroke-width="0.9"/>
<line x1="644.48" y1="250.46" x2="682.58" y2="250.46" stroke="#f2f2f2" stroke-width="0.7"/>
<line x1="644.48" y1="243.24" x2="682.58" y2="243.24" stroke="#ebebeb" stroke-width="0.9"/>
<line x1="644.48" y1="236.02" x2="682.58" y2="236.02" stroke="#f2f2f2" stroke-width="0.7"/>
<line x1="644.48" y1="228.8" x2="682.58" y2="228.8" stroke="#ebebeb" stroke-width="0.9"/>
<line x1="654.68" y1="277.17" x2="654.68" y2="322.23" stroke="#e43036" stroke-width="1.4"/>
<path d="M651.98 297L657.38 302.4M651.98 302.4L657.38 297" stroke="#d42a30" stroke-width="1.0" fill="none"/>
<line x1="654.68" y1="288.87" x2="654.68" y2="297.53" stroke="#e43036" stroke-width="1.4"/>
<circle cx="654.68" cy="293.2" r="2.25" fill="#ff0000"/>
<line x1="672.18" y1="284.68" x2="672.18" y2="329.74" stroke="#2424c8" stroke-width="1.4"/>
<path d="M669.48 304.51L674.88 309.91M669.48 309.91L674.88 304.51" stroke="#1c1cb8" stroke-width="1.0" fill="none"/>
<line x1="672.18" y1="265.04" x2="672.18" y2="272.84" stroke="#2424c8" stroke-width="1.4"/>
<circle cx="672.18" cy="268.94" r="2.25" fill="#0000ff"/>
<rect x="644.48" y="223.2" width="38.1" height="126.5" fill="none" stroke="#606060" stroke-width="0.9"/>
<rect x="644.48" y="208.8" width="38.1" height="14.4" fill="#fff" stroke="#606060" stroke-width="0.9"/>
<text x="663.53" y="218.6" font-size="7" fill="#1a1a1a" text-anchor="middle">Threat</text>
<line x1="644.48" y1="223.35" x2="682.58" y2="223.35" stroke="#606060" stroke-width="1.3"/>
<text x="532.79" y="360.6" font-size="10.85" fill="#1a1a1a" text-anchor="middle">Nudge</text>
<text x="682.4" y="373.5" font-size="7.9" fill="#1a1a1a" text-anchor="end">Number of forecasters = 199</text>
<rect x="410.6" y="62.4" width="209.4" height="25.2" fill="#fff" stroke="#bdbdbd" stroke-width="1.1"/>
<text x="415.8" y="78.55" font-size="9" fill="#1a1a1a">Predictions for</text>
<line x1="479" y1="75.1" x2="491.8" y2="75.1" stroke="#ff0000" stroke-width="1"/>
<circle cx="485.4" cy="75.1" r="2.3" fill="#ff0000"/>
<text x="498.1" y="78.55" font-size="9" fill="#1a1a1a">Republicans</text>
<line x1="553.3" y1="75.1" x2="565.9" y2="75.1" stroke="#0000ff" stroke-width="1"/>
<circle cx="559.5" cy="75.1" r="2.3" fill="#0000ff"/>
<text x="571.9" y="78.55" font-size="9" fill="#1a1a1a">Democrats</text>
<rect x="410.6" y="97.6" width="156.0" height="25.3" fill="#fff" stroke="#bdbdbd" stroke-width="1.1"/>
<text x="415.8" y="113.75" font-size="9" fill="#1a1a1a">Effect</text>
<circle cx="450.6" cy="110.4" r="2.2" fill="#000"/>
<text x="462.9" y="113.75" font-size="9" fill="#1a1a1a">Forecast</text>
<path d="M507.4 108.0L512.8 112.9M507.4 112.9L512.8 108.0" stroke="#3a3a3a" stroke-width="1.0" fill="none"/>
<text x="522.8" y="113.75" font-size="9" fill="#1a1a1a">Observed</text>
</svg>
</body></html>
